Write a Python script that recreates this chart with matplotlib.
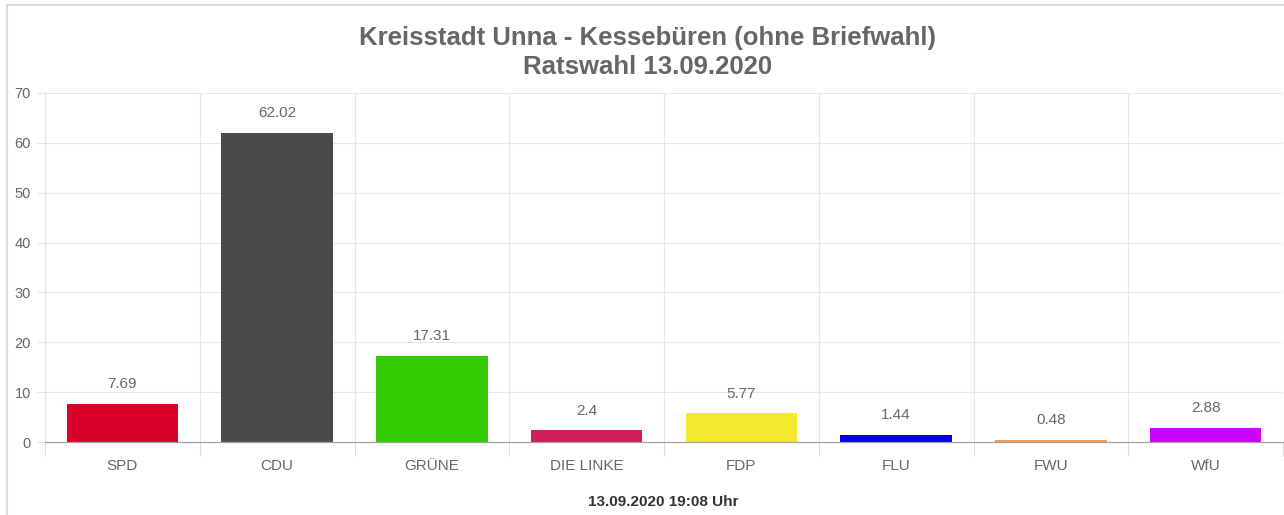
import matplotlib
matplotlib.use("Agg")
import matplotlib.pyplot as plt
from matplotlib.lines import Line2D
import numpy as np

categories = ["SPD", "CDU", "GRÜNE", "DIE LINKE", "FDP", "FLU", "FWU", "WfU"]
values = [7.69, 62.02, 17.31, 2.4, 5.77, 1.44, 0.48, 2.88]
value_labels = ["7.69", "62.02", "17.31", "2.4", "5.77", "1.44", "0.48", "2.88"]
colors = ["#d6002a", "#4a4a4a", "#33cc00", "#cf1f5a", "#f7e830", "#0000ee", "#f2a060", "#cc00ff"]
yticks = [0, 10, 20, 30, 40, 50, 60, 70]
title_lines = ["Kreisstadt Unna - Kessebüren (ohne Briefwahl)", "Ratswahl 13.09.2020"]
footer = "13.09.2020 19:08 Uhr"

plt.rcParams['font.family'] = ['Liberation Sans', 'DejaVu Sans']

W, H = 1284, 515
fig = plt.figure(figsize=(W / 100, H / 100), dpi=100)
ax = fig.add_axes([45 / W, 73 / H, (1283 - 45) / W, (442 - 93) / H])

x = np.arange(len(categories))
ax.bar(x, values, width=0.72, color=colors, zorder=3)
for xi, v, lab in zip(x, values, value_labels):
    ax.annotate(lab, (xi, v), xytext=(0, 9), textcoords="offset points",
                ha="center", va="bottom", fontsize=11, color="#666666")

ax.set_xlim(-0.5, len(categories) - 0.5)
ax.set_ylim(0, 70)
ax.set_yticks(yticks)
ax.set_yticklabels([str(t) for t in yticks], fontsize=10.5, color="#666666")
ax.set_xticks(x)
ax.set_xticklabels(categories, fontsize=11, color="#666666")
ax.tick_params(axis="x", which="major", length=0, pad=12)
ax.set_xticks(np.arange(-0.5, len(categories)), minor=True)
ax.tick_params(axis="x", which="minor", length=10, color="#dddddd", width=0.8)
ax.tick_params(axis="y", length=6, color="#e3e3e3", width=0.8, pad=4)

ax.grid(True, axis="y", color="#e6e6e6", linewidth=0.8, zorder=0)
ax.grid(True, axis="x", which="minor", color="#e6e6e6", linewidth=0.8, zorder=0)
ax.grid(False, axis="x", which="major")
for s in ["top", "right"]:
    ax.spines[s].set_visible(False)
ax.spines["left"].set_color("#e3e3e3")
ax.spines["left"].set_linewidth(0.8)
ax.spines["bottom"].set_color("#a0a0a0")
ax.spines["bottom"].set_linewidth(0.9)
ax.spines["bottom"].set_zorder(4)

fig.text(648 / W, 1 - 38 / H, title_lines[0], ha="center", va="center",
         fontsize=18.5, fontweight="bold", color="#666666")
fig.text(648 / W, 1 - 67 / H, title_lines[1], ha="center", va="center",
         fontsize=18.5, fontweight="bold", color="#666666")
fig.text(663 / W, 1 - 502 / H, footer, ha="center", va="center",
         fontsize=11, fontweight="bold", color="#333333")

fig.add_artist(Line2D([7 / W, 1], [1 - 5 / H, 1 - 5 / H], transform=fig.transFigure,
                      color="#dcdde3", linewidth=1.5))
fig.add_artist(Line2D([7 / W, 7 / W], [0, 1 - 5 / H], transform=fig.transFigure,
                      color="#dcdde3", linewidth=1.5))

fig.savefig("out.png", dpi=100)
